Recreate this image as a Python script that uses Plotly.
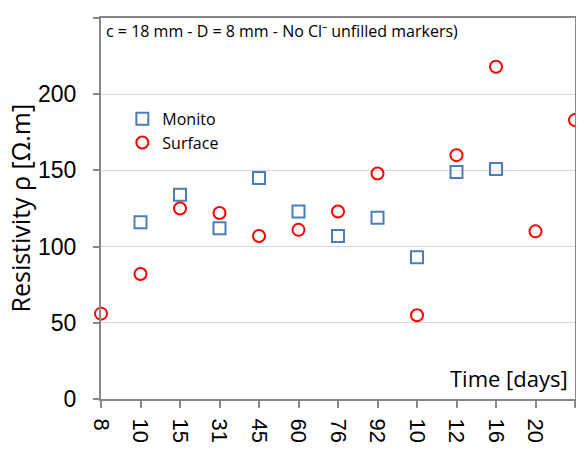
import plotly.graph_objects as go

days = ["8", "10", "15", "31", "45", "60", "76", "92", "103", "120", "169", "201", "211"]
monito = [None, 116, 134, 112, 145, 123, 107, 119, 93, 149, 151, None, None]
surface = [56, 82, 125, 122, 107, 111, 123, 148, 55, 160, 218, 110, 183]
y_ticks = [0, 50, 100, 150, 200, 250]

idx = list(range(len(days)))

fig = go.Figure()
fig.add_trace(go.Scatter(
    x=idx, y=monito, mode="markers", name="Monito",
    marker=dict(symbol="square-open", size=12, color="#4A7EBB", line=dict(width=2)),
    cliponaxis=False))
fig.add_trace(go.Scatter(
    x=idx, y=surface, mode="markers", name="Surface",
    marker=dict(symbol="circle-open", size=12, color="#FF0000", line=dict(width=2)),
    cliponaxis=False))

# The page body keeps its default margin, so the figure is sized to fit
# inside the 584x450 window without making the page larger.
fig.update_layout(
    width=568, height=434,
    margin=dict(l=93, r=1, t=10, b=43, autoexpand=False),
    paper_bgcolor="white", plot_bgcolor="white",
    font=dict(family="Liberation Sans, Arial", color="black"),
    showlegend=True,
    legend=dict(x=0.045, y=0.78, xanchor="left", yanchor="top",
                bgcolor="rgba(0,0,0,0)", font=dict(family="Open Sans", size=16),
                itemwidth=30, tracegroupgap=0),
    xaxis=dict(
        range=[0, 12], tickmode="array", tickvals=idx, ticktext=days,
        tickangle=90, tickfont=dict(size=22, family="Liberation Sans, Arial"),
        showgrid=False, zeroline=False, automargin=False,
        showline=True, linecolor="#878787", linewidth=2, mirror=True,
        ticks="outside", ticklen=7, tickcolor="#878787", tickwidth=2,
        ticklabelstandoff=6,
    ),
    yaxis=dict(
        range=[0, 250], tickmode="array", tickvals=y_ticks,
        tickfont=dict(size=23, family="Liberation Sans, Arial"),
        showgrid=True, gridcolor="#D9D9D9", gridwidth=1, zeroline=False, automargin=False,
        showline=True, linecolor="#878787", linewidth=2, mirror=True,
        ticks="outside", ticklen=6, tickcolor="#878787", tickwidth=2,
        ticklabelstandoff=12,
    ),
    annotations=[
        dict(text="Resistivity ρ [Ω.m]", xref="paper", yref="paper", x=0, y=0.5,
             xanchor="center", yanchor="middle", xshift=-82, textangle=-90,
             showarrow=False, font=dict(size=25, family="Open Sans")),
        dict(text="c = 18 mm - D = 8 mm - No Cl⁻ unfilled markers)",
             xref="paper", yref="paper", x=0.006, y=1.0, xanchor="left", yanchor="top",
             showarrow=False, font=dict(size=16, family="Open Sans")),
        dict(text="Time [days]", xref="paper", yref="paper", x=0.99, y=0.01,
             xanchor="right", yanchor="bottom", showarrow=False,
             font=dict(size=22, family="Open Sans")),
    ],
)

fig.write_html("out.html", config={"displayModeBar": False})
